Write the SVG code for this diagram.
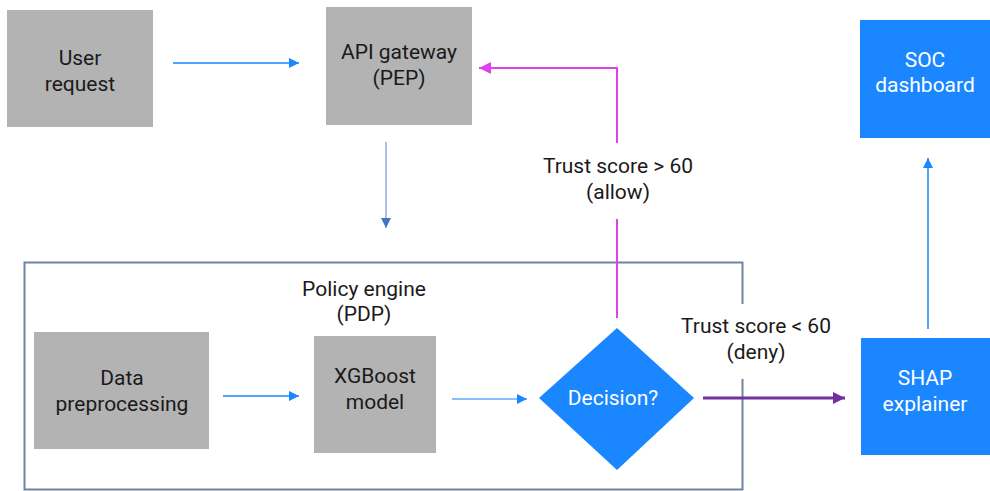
<svg xmlns="http://www.w3.org/2000/svg" width="990" height="491" viewBox="0 0 990 491">
<style>
.g{fill:#b3b3b3}
.b{fill:#1a86ff}
text{font-family:Roboto,"Liberation Sans",sans-serif;font-size:21px;text-anchor:middle}
.d{fill:#1a1a1a}
.w{fill:#ffffff}
</style>
<defs>
<marker id="ab" viewBox="0 0 10 10" refX="10" refY="5" markerWidth="10" markerHeight="10" markerUnits="userSpaceOnUse" orient="auto"><path d="M0,0L10,5L0,10z" fill="#1a86ff"/></marker>
<marker id="ad" viewBox="0 0 10 10" refX="10" refY="5" markerWidth="10" markerHeight="10" markerUnits="userSpaceOnUse" orient="auto"><path d="M0,0L10,5L0,10z" fill="#4472c4"/></marker>
<marker id="am" viewBox="0 0 10 10" refX="10" refY="5" markerWidth="12" markerHeight="12" markerUnits="userSpaceOnUse" orient="auto"><path d="M0,0L10,5L0,10z" fill="#e040e8"/></marker>
<marker id="ap" viewBox="0 0 10 10" refX="10" refY="5" markerWidth="12" markerHeight="12" markerUnits="userSpaceOnUse" orient="auto"><path d="M0,0L10,5L0,10z" fill="#7030a0"/></marker>
</defs>
<g id="policy-engine">
<rect x="24.5" y="262.5" width="718" height="227" fill="none" stroke="#6f84a3" stroke-width="2"/>
<text class="d" x="364" y="296">Policy engine</text>
<text class="d" x="364" y="321">(PDP)</text>
</g>
<g id="user-request">
<rect class="g" x="7" y="10" width="146" height="117"/>
<text class="d" x="80" y="65">User</text>
<text class="d" x="80" y="91">request</text>
</g>
<g id="api-gateway">
<rect class="g" x="326" y="7" width="146" height="118"/>
<text class="d" x="399" y="59">API gateway</text>
<text class="d" x="399" y="85">(PEP)</text>
</g>
<g id="data-preprocessing">
<rect class="g" x="34" y="332" width="175" height="117"/>
<text class="d" x="122" y="385">Data</text>
<text class="d" x="122" y="411">preprocessing</text>
</g>
<g id="xgboost-model">
<rect class="g" x="314" y="336" width="122" height="117"/>
<text class="d" x="375" y="383">XGBoost</text>
<text class="d" x="375" y="409">model</text>
</g>
<g id="decision">
<polygon class="b" points="617,328 694,398 617,470 539,398"/>
<text class="w" x="613" y="405">Decision?</text>
</g>
<g id="shap-explainer">
<rect class="b" x="861" y="338" width="129" height="117"/>
<text class="w" x="925" y="385">SHAP</text>
<text class="w" x="925" y="411">explainer</text>
</g>
<g id="soc-dashboard">
<rect class="b" x="860" y="20" width="130" height="118"/>
<text class="w" x="925" y="67">SOC</text>
<text class="w" x="925" y="92">dashboard</text>
</g>
<g id="connectors">
<line x1="173" y1="63" x2="299" y2="63" stroke="#1a86ff" stroke-width="1.5" marker-end="url(#ab)"/>
<line x1="386" y1="142" x2="386" y2="228" stroke="#8eaadb" stroke-width="1.5" marker-end="url(#ad)"/>
<line x1="223" y1="396" x2="299" y2="396" stroke="#1a86ff" stroke-width="1.5" marker-end="url(#ab)"/>
<line x1="452" y1="399" x2="527" y2="399" stroke="#5fa8ff" stroke-width="1.5" marker-end="url(#ab)"/>
<polyline points="617,318 617,219" fill="none" stroke="#e040e8" stroke-width="2"/>
<polyline points="617,143 617,68 479,68" fill="none" stroke="#e040e8" stroke-width="2" marker-end="url(#am)"/>
<text class="d" x="618" y="173">Trust score &gt; 60</text>
<text class="d" x="618" y="199">(allow)</text>
<rect x="676" y="304" width="160" height="75" fill="#ffffff"/>
<line x1="703" y1="398" x2="845" y2="398" stroke="#7030a0" stroke-width="3" marker-end="url(#ap)"/>
<text class="d" x="756" y="333">Trust score &lt; 60</text>
<text class="d" x="756" y="359">(deny)</text>
<line x1="928" y1="329" x2="928" y2="158" stroke="#1a86ff" stroke-width="1.5" marker-end="url(#ab)"/>
</g>
</svg>
